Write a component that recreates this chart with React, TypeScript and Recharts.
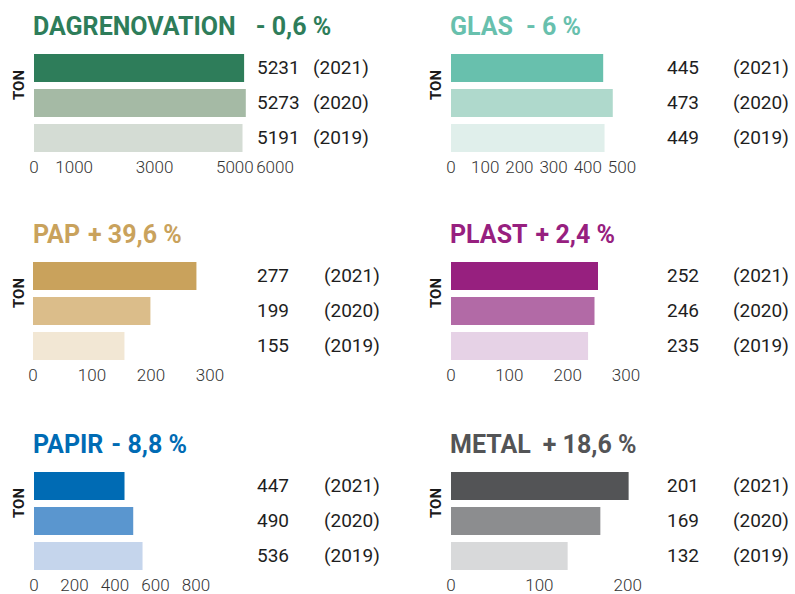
import React from 'react';
import { BarChart, Bar, XAxis, YAxis, Cell, LabelList } from 'recharts';

const years = ['2021', '2020', '2019'];

const dagrenovation = [5231, 5273, 5191];
const glas = [445, 473, 449];
const pap = [277, 199, 155];
const plast = [252, 246, 235];
const papir = [447, 490, 536];
const metal = [201, 169, 132];

const dagTicks = [0, 1000, 3000, 5000, 6000];
const glasTicks = [0, 100, 200, 300, 400, 500];
const papTicks = [0, 100, 200, 300];
const plastTicks = [0, 100, 200, 300];
const papirTicks = [0, 200, 400, 600, 800];
const metalTicks = [0, 100, 200];

const titles = ['DAGRENOVATION', 'GLAS', 'PAP', 'PLAST', 'PAPIR', 'METAL'];
const changes = ['- 0,6 %', '- 6 %', '+ 39,6 %', '+ 2,4 %', '- 8,8 %', '+ 18,6 %'];
const axisLabel = 'TON';

const FONT = 'Roboto, "Open Sans", sans-serif';

type Cfg = {
  title: string;
  change: string;
  gap: number;
  values: number[];
  ticks: number[];
  domainMax: number;
  plotWidth: number;
  chartLeft: number;
  chartWidth: number;
  plotStart: number;
  titleX: number;
  tonX: number;
  rowOffset: number;
  valueX: number;
  yearX: number;
  colors: string[];
};

const panels: Cfg[] = [
  {
    title: titles[0], change: changes[0], gap: 20, values: dagrenovation, ticks: dagTicks,
    domainMax: 6000, plotWidth: 241, chartLeft: 0, chartWidth: 400, plotStart: 34,
    titleX: 33, tonX: 18.5, rowOffset: 0, valueX: 257, yearX: 313,
    colors: ['#2e7d5a', '#a5baa5', '#d4dcd4'],
  },
  {
    title: titles[1], change: changes[1], gap: 13, values: glas, ticks: glasTicks,
    domainMax: 500, plotWidth: 171, chartLeft: 400, chartWidth: 395, plotStart: 451,
    titleX: 450, tonX: 436, rowOffset: 0, valueX: 667, yearX: 733,
    colors: ['#68c0ad', '#afd9cc', '#e0efeb'],
  },
  {
    title: titles[2], change: changes[2], gap: 8, values: pap, ticks: papTicks,
    domainMax: 300, plotWidth: 177, chartLeft: 0, chartWidth: 400, plotStart: 33,
    titleX: 33, tonX: 18.5, rowOffset: 208, valueX: 257, yearX: 324,
    colors: ['#c9a25c', '#dbbd8a', '#f2e7d4'],
  },
  {
    title: titles[3], change: changes[3], gap: 8, values: plast, ticks: plastTicks,
    domainMax: 300, plotWidth: 175, chartLeft: 400, chartWidth: 395, plotStart: 451,
    titleX: 450, tonX: 436, rowOffset: 208, valueX: 667, yearX: 733,
    colors: ['#97207f', '#b26aa6', '#e6d2e6'],
  },
  {
    title: titles[4], change: changes[4], gap: 8, values: papir, ticks: papirTicks,
    domainMax: 800, plotWidth: 162, chartLeft: 0, chartWidth: 400, plotStart: 34,
    titleX: 33, tonX: 18.5, rowOffset: 418, valueX: 257, yearX: 324,
    colors: ['#006bb4', '#5a96cf', '#c5d5ec'],
  },
  {
    title: titles[5], change: changes[5], gap: 12, values: metal, ticks: metalTicks,
    domainMax: 215, plotWidth: 190, chartLeft: 400, chartWidth: 395, plotStart: 451,
    titleX: 450, tonX: 436, rowOffset: 418, valueX: 667, yearX: 733,
    colors: ['#535456', '#8c8d8f', '#d8d9da'],
  },
];

const renderAt = (x: number) => (props: any) => {
  const vb = props.viewBox ?? props;
  const y = Number(vb.y) + Number(vb.height) / 2 - 1;
  return (
    <text
      x={x}
      y={y}
      dominantBaseline="central"
      fontFamily={FONT}
      fontSize={19}
      fill="#1e1e1e"
    >
      {props.value}
    </text>
  );
};

function Panel({ cfg }: { cfg: Cfg }) {
  const data = years.map((y, i) => ({ year: y, value: cfg.values[i], yearLabel: `(${y})` }));
  const ml = cfg.plotStart - cfg.chartLeft;
  const mr = cfg.chartWidth - ml - cfg.plotWidth;
  const chartTop = 50 + cfg.rowOffset;
  return (
    <>
      <div
        style={{
          position: 'absolute',
          left: cfg.titleX,
          top: 14 + cfg.rowOffset,
          fontFamily: FONT,
          fontWeight: 700,
          fontSize: 25,
          lineHeight: '25px',
          color: cfg.colors[0],
          whiteSpace: 'nowrap',
        }}
      >
        <span>{cfg.title}</span>
        <span style={{ marginLeft: cfg.gap }}>{cfg.change}</span>
      </div>
      <div
        style={{
          position: 'absolute',
          left: cfg.tonX,
          top: 84.5 + cfg.rowOffset,
          transform: 'translate(-50%, -50%) rotate(-90deg)',
          fontFamily: FONT,
          fontWeight: 700,
          fontSize: 15,
          lineHeight: '15px',
          color: '#1a1a1a',
        }}
      >
        {axisLabel}
      </div>
      <div style={{ position: 'absolute', left: cfg.chartLeft, top: chartTop }}>
        <BarChart
          layout="vertical"
          width={cfg.chartWidth}
          height={135}
          data={data}
          margin={{ top: 0, right: mr, left: ml, bottom: 0 }}
        >
          <YAxis type="category" dataKey="year" hide />
          <XAxis
            type="number"
            domain={[0, cfg.domainMax]}
            ticks={cfg.ticks}
            interval={0}
            axisLine={false}
            tickLine={false}
            tickMargin={0}
            height={30}
            tick={{ fontSize: 17, fill: '#333', fontFamily: FONT, fontWeight: 300 }}
          />
          <Bar dataKey="value" barSize={28} isAnimationActive={false}>
            {data.map((d, i) => (
              <Cell key={d.year} fill={cfg.colors[i]} />
            ))}
            <LabelList dataKey="value" content={renderAt(cfg.valueX - cfg.chartLeft)} />
            <LabelList dataKey="yearLabel" content={renderAt(cfg.yearX - cfg.chartLeft)} />
          </Bar>
        </BarChart>
      </div>
    </>
  );
}

export default function App() {
  return (
    <div
      style={{
        position: 'absolute',
        left: 0,
        top: 0,
        width: 795,
        height: 594,
        background: '#fff',
        overflow: 'hidden',
      }}
    >
      {panels.map((p) => (
        <Panel key={p.title} cfg={p} />
      ))}
    </div>
  );
}
